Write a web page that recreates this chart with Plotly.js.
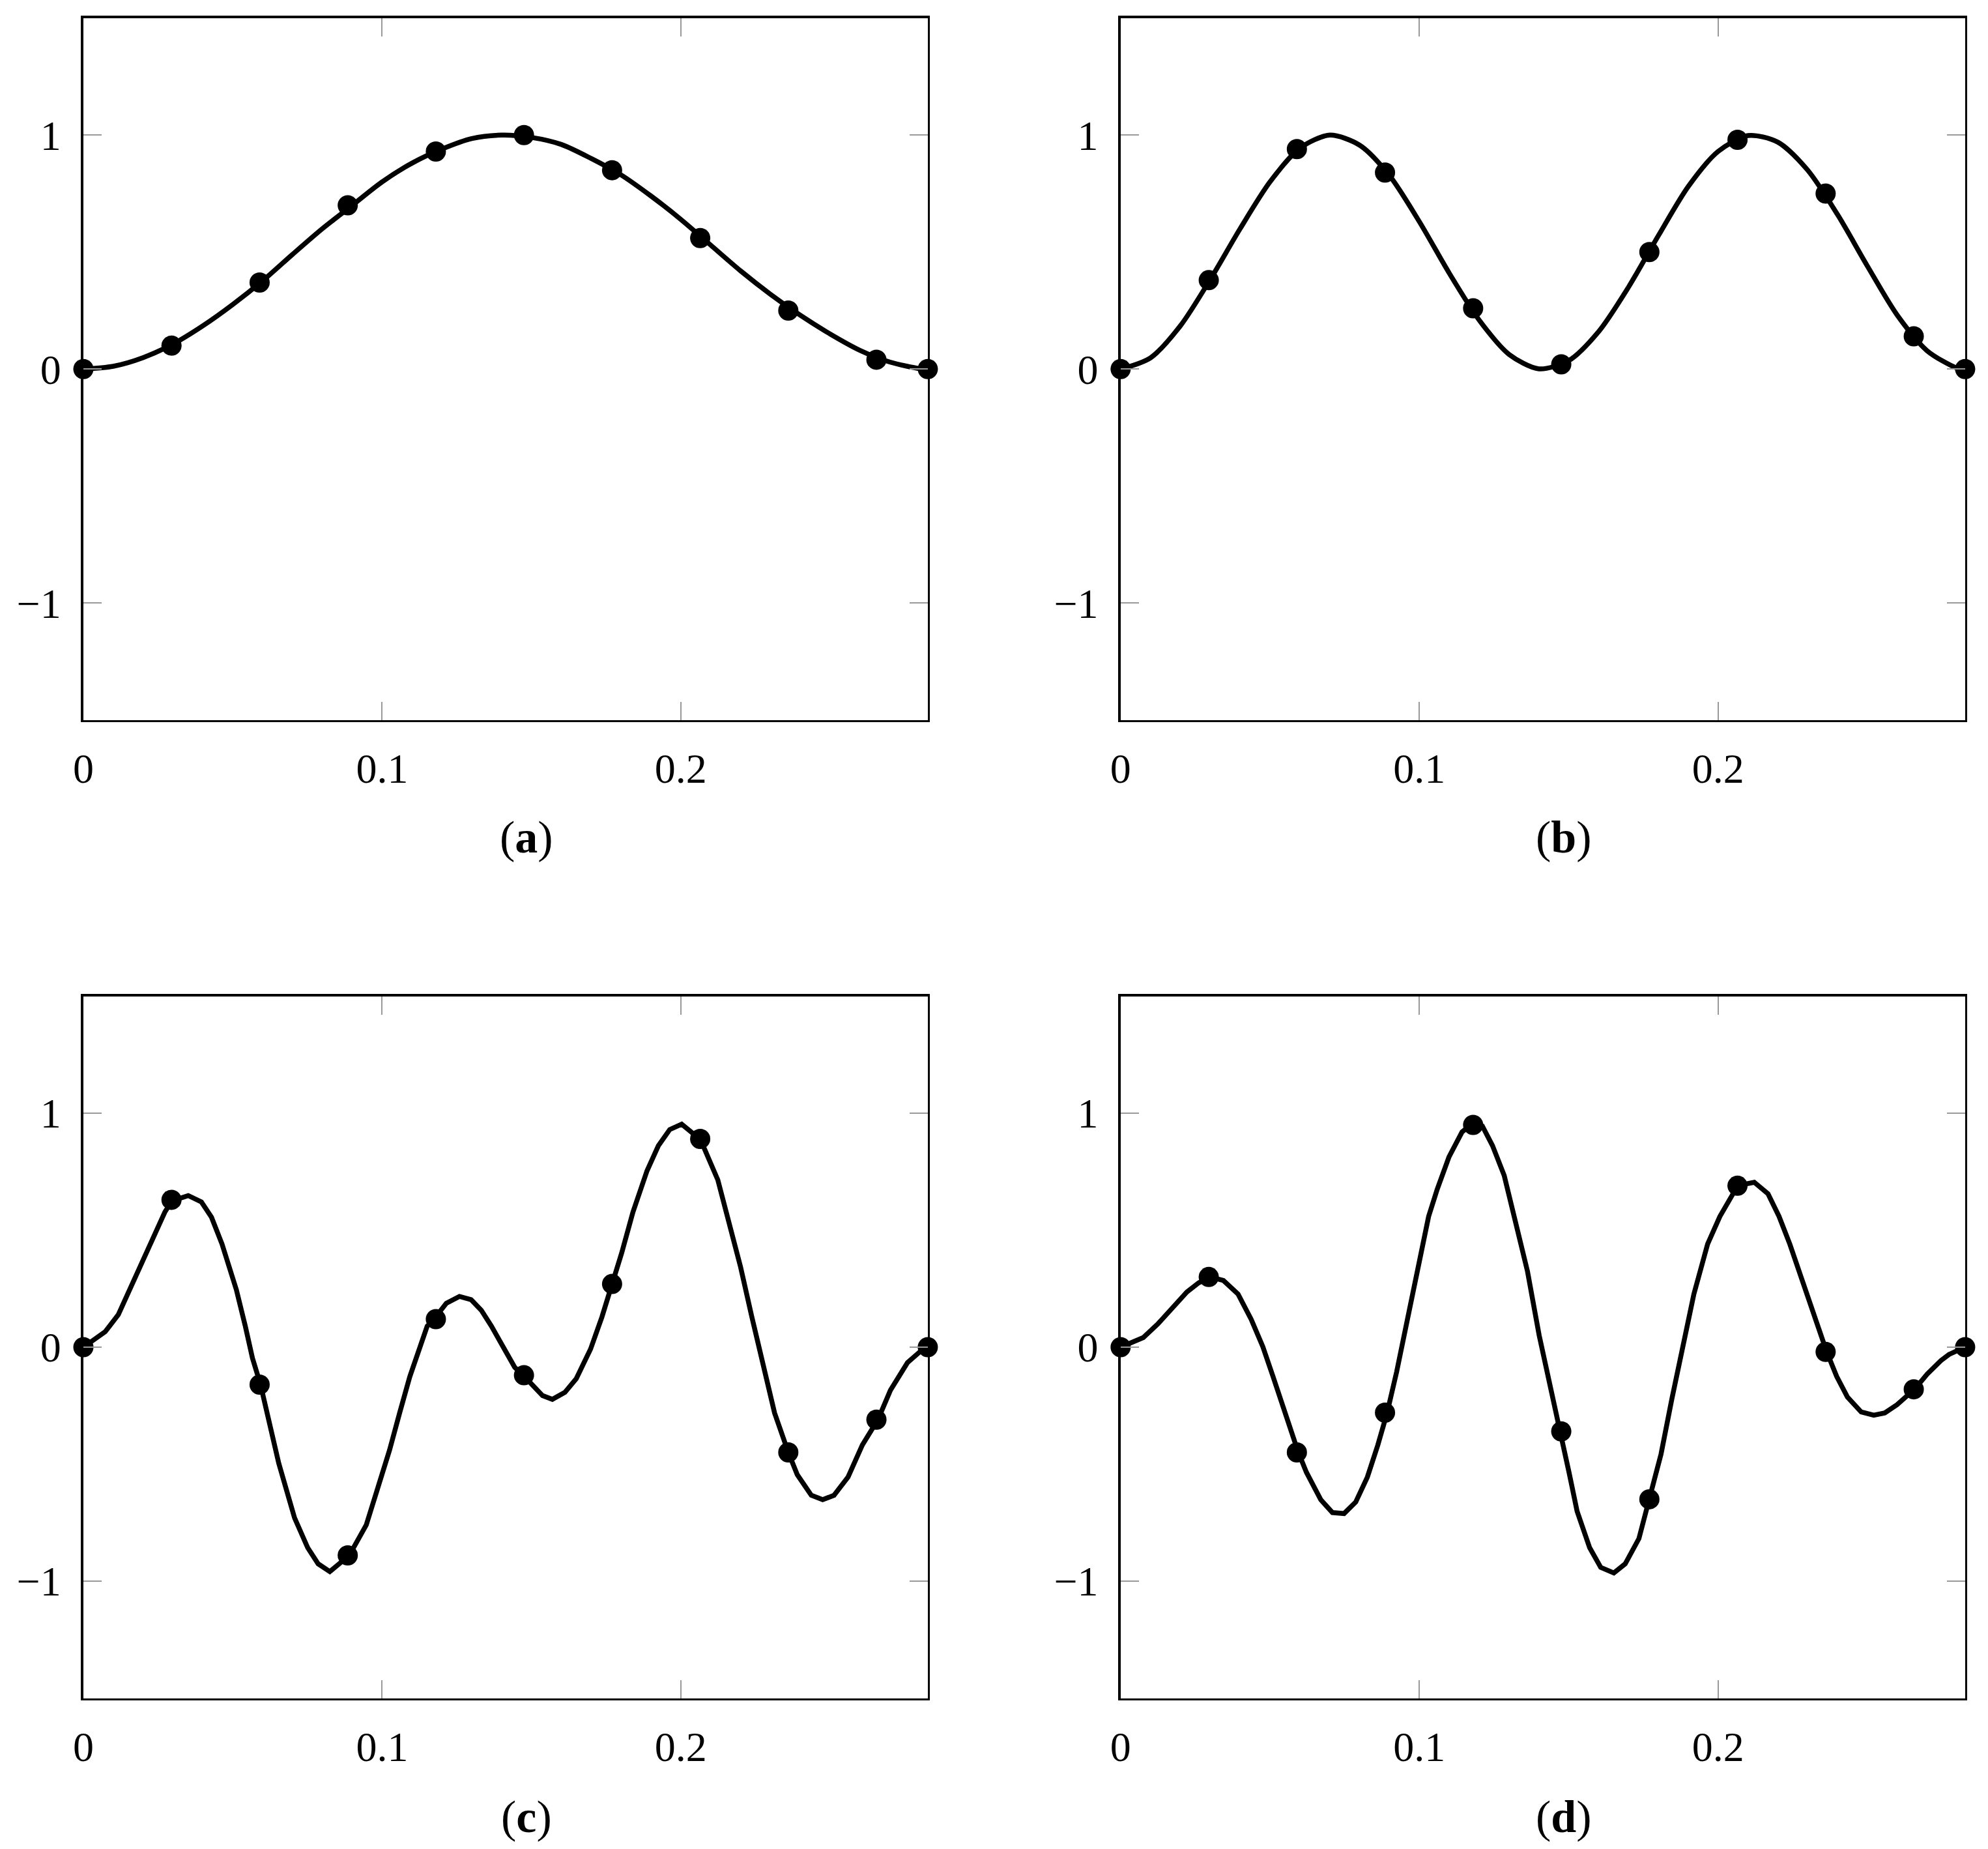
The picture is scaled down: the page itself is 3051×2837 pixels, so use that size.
<!DOCTYPE html>
<html>
<head>
<meta charset="utf-8">
<script src="https://cdn.plot.ly/plotly-3.0.1.min.js"></script>
<style>
  html, body { margin: 0; padding: 0; background: #fff; }
  #chart { width: 3051px; height: 2837px; }
</style>
</head>
<body>
<div id="chart"></div>
<script>
// sample points (dots) shared by all four panels
const markerX = [0, 0.0295, 0.059, 0.0885, 0.118, 0.1475, 0.177, 0.2065, 0.236, 0.2655, 0.2827];
const markA = [0, 0.10, 0.37, 0.70, 0.93, 1.0, 0.85, 0.56, 0.25, 0.04, 0];
const markB = [0, 0.38, 0.94, 0.84, 0.26, 0.02, 0.50, 0.98, 0.75, 0.14, 0];
const markC = [0, 0.63, -0.16, -0.89, 0.12, -0.12, 0.27, 0.89, -0.45, -0.31, 0];
const markD = [0, 0.30, -0.45, -0.28, 0.95, -0.36, -0.65, 0.69, -0.02, -0.18, 0];

// smooth curves of panels (a) and (b)
const curveX = [0, 0.01, 0.02, 0.03, 0.04, 0.05, 0.06, 0.07, 0.08, 0.09, 0.10, 0.11, 0.12, 0.13, 0.14,
  0.15, 0.16, 0.17, 0.18, 0.19, 0.20, 0.21, 0.22, 0.23, 0.24, 0.25, 0.26, 0.27, 0.28, 0.2827];
const curveA = [0, 0.012, 0.049, 0.107, 0.185, 0.276, 0.377, 0.49, 0.60, 0.70, 0.80, 0.88, 0.94, 0.985, 1.0,
  0.99, 0.96, 0.90, 0.83, 0.74, 0.64, 0.53, 0.42, 0.32, 0.23, 0.15, 0.08, 0.03, 0.002, 0];
const curveB = [0, 0.048, 0.185, 0.383, 0.60, 0.80, 0.944, 1.0, 0.957, 0.827, 0.63, 0.41, 0.21, 0.063, 0.001,
  0.036, 0.16, 0.35, 0.57, 0.78, 0.93, 0.998, 0.97, 0.85, 0.66, 0.44, 0.23, 0.078, 0.004, 0];

// panel (c) curve
const cX = [0, 0.0073, 0.0117, 0.0176, 0.022, 0.0273, 0.0296, 0.0351, 0.0395, 0.0429, 0.0464, 0.0512, 0.0542,
  0.0566, 0.0593, 0.0625, 0.0654, 0.0707, 0.0751, 0.0786, 0.0825, 0.089, 0.0947, 0.0986, 0.1025, 0.1059,
  0.1093, 0.1151, 0.1173, 0.1215, 0.1259, 0.1298, 0.1332, 0.1366, 0.1405, 0.1444, 0.147, 0.1537, 0.157,
  0.1612, 0.165, 0.1698, 0.1736, 0.1769, 0.1802, 0.184, 0.1887, 0.1925, 0.1963, 0.2003, 0.2066, 0.2124,
  0.2162, 0.22, 0.2238, 0.2276, 0.2314, 0.2361, 0.239, 0.2437, 0.2475, 0.2513, 0.256, 0.2608, 0.266,
  0.2702, 0.2759, 0.2802, 0.2827];
const cY = [0, 0.066, 0.139, 0.305, 0.43, 0.578, 0.625, 0.648, 0.621, 0.555, 0.441, 0.246, 0.09,
  -0.047, -0.16, -0.33, -0.496, -0.73, -0.857, -0.926, -0.959, -0.89, -0.76, -0.60, -0.44, -0.28,
  -0.125, 0.09, 0.119, 0.1875, 0.217, 0.203, 0.158, 0.09, 0.002, -0.086, -0.117, -0.207, -0.223,
  -0.193, -0.135, -0.008, 0.129, 0.266, 0.402, 0.578, 0.754, 0.861, 0.93, 0.953, 0.887, 0.715,
  0.539, 0.344, 0.129, -0.086, -0.281, -0.453, -0.545, -0.633, -0.652, -0.633, -0.555, -0.418, -0.31,
  -0.184, -0.066, -0.018, 0];

// panel (d) curve
const dX = [0, 0.0076, 0.0125, 0.0173, 0.0222, 0.0261, 0.0298, 0.0344, 0.0393, 0.0437, 0.0476, 0.051,
  0.0544, 0.0594, 0.0622, 0.067, 0.0709, 0.0748, 0.0787, 0.0826, 0.0861, 0.0892, 0.0924, 0.0963, 0.1002,
  0.1031, 0.106, 0.1099, 0.1143, 0.1175, 0.1211, 0.1245, 0.1284, 0.1323, 0.1362, 0.1401, 0.144, 0.1471,
  0.1501, 0.1528, 0.157, 0.1607, 0.1651, 0.1689, 0.1735, 0.1769, 0.1809, 0.1845, 0.1882, 0.1919, 0.1965,
  0.2006, 0.2066, 0.2121, 0.2167, 0.2204, 0.224, 0.2277, 0.2323, 0.2363, 0.2397, 0.2433, 0.2479, 0.2521,
  0.2558, 0.2599, 0.2659, 0.27, 0.2746, 0.2773, 0.2827];
const dY = [0, 0.041, 0.10, 0.168, 0.236, 0.275, 0.30, 0.285, 0.227, 0.119, 0.002, -0.125,
  -0.262, -0.447, -0.535, -0.652, -0.707, -0.711, -0.662, -0.555, -0.418, -0.281, -0.105, 0.139, 0.393,
  0.559, 0.676, 0.8125, 0.92, 0.953, 0.945, 0.861, 0.734, 0.539, 0.324, 0.051, -0.19, -0.36,
  -0.535, -0.701, -0.857, -0.941, -0.965, -0.926, -0.818, -0.645, -0.457, -0.223, 0.012, 0.227, 0.441,
  0.559, 0.691, 0.705, 0.656, 0.559, 0.441, 0.305, 0.129, -0.018, -0.125, -0.213, -0.277, -0.291,
  -0.281, -0.246, -0.178, -0.115, -0.057, -0.031, 0];

const xTicks = [0, 0.1, 0.2];
const yTicks = [-1, 0, 1];
const panelLabels = ["a", "b", "c", "d"];

const FONT = "Liberation Serif, 'Times New Roman', serif";

const panels = [
  { lx: curveX, ly: curveA, my: markA, shape: "spline" },
  { lx: curveX, ly: curveB, my: markB, shape: "spline" },
  { lx: cX, ly: cY, my: markC, shape: "linear" },
  { lx: dX, ly: dY, my: markD, shape: "linear" },
];

const xDomains = [[0.04195, 0.4667], [0.5637, 0.9885]];
const yDomains = [[0.6106, 0.9902], [0.0816, 0.4612]];

const data = [];
const layout = {
  width: 3051,
  height: 2837,
  margin: { l: 0, r: 0, t: 0, b: 0 },
  paper_bgcolor: "#fff",
  plot_bgcolor: "#fff",
  showlegend: false,
  font: { family: FONT, color: "#000" },
  annotations: [],
};

function axisBase() {
  return {
    showgrid: false,
    zeroline: false,
    showline: true,
    linecolor: "#000",
    linewidth: 3.5,
    mirror: "ticks",
    ticks: "inside",
    ticklen: 28,
    tickwidth: 2,
    tickcolor: "#999",
    tickfont: { family: FONT, size: 64, color: "#000" },
    fixedrange: true,
  };
}

panels.forEach((p, i) => {
  const n = i + 1;
  const xs = n === 1 ? "" : String(n);
  const col = i % 2;
  const row = Math.floor(i / 2);

  data.push({
    type: "scatter",
    mode: "lines",
    x: p.lx,
    y: p.ly,
    xaxis: "x" + xs,
    yaxis: "y" + xs,
    line: { color: "#000", width: 7.5, shape: p.shape, smoothing: 0.8 },
    cliponaxis: false,
    hoverinfo: "skip",
  });
  data.push({
    type: "scatter",
    mode: "markers",
    x: markerX,
    y: p.my,
    xaxis: "x" + xs,
    yaxis: "y" + xs,
    marker: { color: "#000", size: 31 },
    cliponaxis: false,
  });

  layout["xaxis" + xs] = Object.assign(axisBase(), {
    domain: xDomains[col],
    anchor: "y" + xs,
    range: [0, 0.2827],
    tickvals: xTicks,
    ticklabelstandoff: 16,
  });
  layout["yaxis" + xs] = Object.assign(axisBase(), {
    domain: yDomains[row],
    anchor: "x" + xs,
    range: [-1.5, 1.5],
    tickvals: yTicks,
    ticklabelstandoff: 18,
  });

  layout.annotations.push({
    xref: "paper",
    yref: "paper",
    x: [0.2648, 0.7865][col],
    y: [0.5474, 0.0176][row],
    xanchor: "center",
    yanchor: "middle",
    showarrow: false,
    text: "(<b>" + panelLabels[i] + "</b>)",
    font: { family: FONT, size: 70, color: "#000" },
  });
});

Plotly.newPlot("chart", data, layout, { staticPlot: true });
</script>
</body>
</html>
